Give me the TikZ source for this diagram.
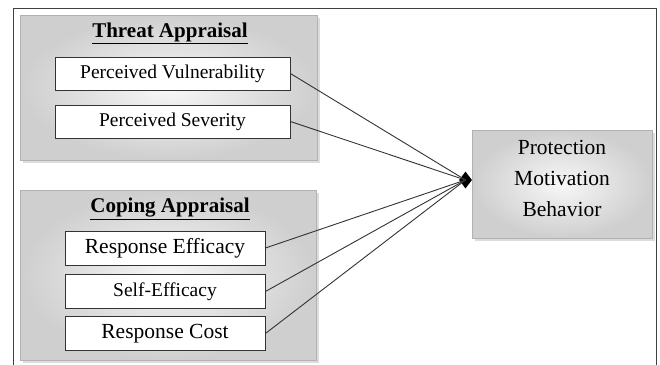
\documentclass[tikz,border=0pt]{standalone}
\usepackage{fontspec}
\setmainfont{Liberation Serif}
\usetikzlibrary{shapes.geometric,shadows}

\begin{document}
\begin{tikzpicture}[x=1pt,y=-1pt,
    group/.style={draw=gray!60, inner color=gray!6, outer color=gray!38,
      drop shadow={shadow xshift=3pt, shadow yshift=-3pt, fill=gray!55}},
    title/.style={font=\fontsize{21}{23}\selectfont\bfseries},
    item/.style={draw=black!80, fill=white, line width=0.8pt, inner sep=0pt},
    link/.style={draw=black!80, line width=0.9pt}]
  \useasboundingbox (0,0) rectangle (660,364);
  \draw[black!75, line width=1pt] (13,370) -- (13,8) -- (656,8) -- (656,370);
  % threat appraisal
  \node[group, minimum width=297, minimum height=145] (threat) at (168.5,87.5) {};
  \node[title] (threattitle) at (170,33) {\underline{Threat Appraisal}};
  \node[item, minimum width=235, minimum height=33, font=\fontsize{19.5}{21}\selectfont] (pv) at (172.5,73.5) {Perceived Vulnerability};
  \node[item, minimum width=235, minimum height=33, font=\fontsize{19.5}{21}\selectfont] (ps) at (172.5,121.5) {Perceived Severity};
  % coping appraisal
  \node[group, minimum width=296, minimum height=170] (coping) at (168,275) {};
  \node[title] (copingtitle) at (170,209) {\underline{Coping Appraisal}};
  \node[item, minimum width=200, minimum height=34, font=\fontsize{21.5}{23}\selectfont] (re) at (165,248) {Response Efficacy};
  \node[item, minimum width=200, minimum height=34, font=\fontsize{19.5}{21}\selectfont] (se) at (165,291.5) {Self-Efficacy};
  \node[item, minimum width=200, minimum height=34, font=\fontsize{21.5}{23}\selectfont] (rc) at (165,333.5) {Response Cost};
  % outcome
  \node[group, minimum width=180, minimum height=108,
    font=\fontsize{21.5}{31}\selectfont] (pmb) at (562,184)
    {\smash{\begin{tabular}{c}Protection\\Motivation\\Behavior\end{tabular}}};
  \node[diamond, fill=black, inner sep=0pt, minimum width=13, minimum height=17] (hub) at (465.5,180) {};
  \foreach \src in {pv,ps,re,se,rc}
    \draw[link] (\src.east) -- (hub.center);
\end{tikzpicture}
\end{document}
